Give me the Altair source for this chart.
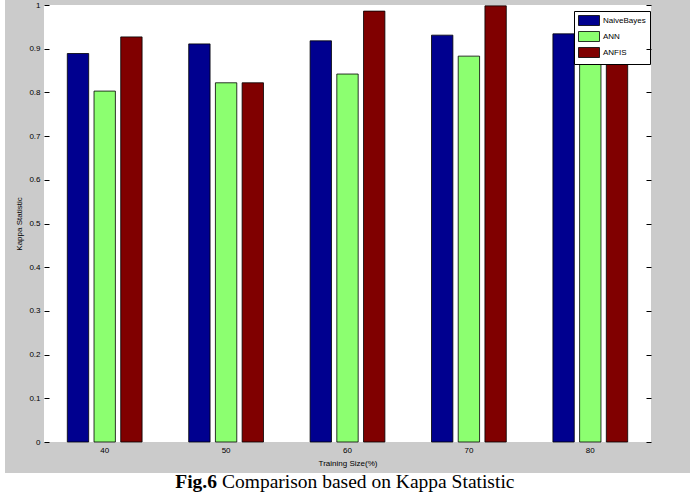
import altair as alt
import pandas as pd

groups = ["40", "50", "60", "70", "80"]
series = ["NaiveBayes", "ANN", "ANFIS"]
naive_bayes = [0.889, 0.911, 0.918, 0.931, 0.934]
ann = [0.803, 0.822, 0.842, 0.883, 0.930]
anfis = [0.927, 0.822, 0.986, 0.998, 0.872]
colors = ["#00008F", "#8CFF70", "#800000"]
y_ticks = [round(i * 0.1, 1) for i in range(11)]

rows = []
for name, vals in zip(series, [naive_bayes, ann, anfis]):
    for g, v in zip(groups, vals):
        rows.append({"size": g, "model": name, "kappa": v})
df = pd.DataFrame(rows)

W, H = 607, 437
FONT = "Liberation Sans"

bg = alt.Chart(df).mark_rect(color="#cbcbcb").encode(
    x=alt.value(-39), x2=alt.value(646), y=alt.value(-5), y2=alt.value(468)
)
plot_bg = alt.Chart(df).mark_rect(color="white").encode(
    x=alt.value(0), x2=alt.value(W), y=alt.value(0), y2=alt.value(H)
)

bars = alt.Chart(df).mark_bar(stroke="black", strokeWidth=0.8).encode(
    x=alt.X("size:N", sort=groups,
            scale=alt.Scale(paddingInner=0.34, paddingOuter=0.17),
            axis=alt.Axis(title="Training Size(%)", labelAngle=0, ticks=False,
                          domain=False, labelPadding=4, titlePadding=5,
                          labelFont=FONT, titleFont=FONT, labelFontSize=8,
                          titleFontSize=8, titleFontWeight="normal",
                          labelColor="black", titleColor="black", zindex=1)),
    xOffset=alt.XOffset("model:N", sort=series,
                        scale=alt.Scale(paddingInner=0.2, paddingOuter=0.1)),
    y=alt.Y("kappa:Q", scale=alt.Scale(domain=[0, 1], nice=False),
            axis=alt.Axis(title="Kappa Statistic", values=y_ticks, format=".1~f",
                          offset=-5, tickSize=5, domain=False, grid=False,
                          labelPadding=4, titlePadding=5, tickColor="black",
                          labelFont=FONT, titleFont=FONT, labelFontSize=8,
                          titleFontSize=8, titleFontWeight="normal",
                          labelColor="black", titleColor="black", zindex=1)),
    color=alt.Color("model:N", sort=series,
                    scale=alt.Scale(domain=series, range=colors),
                    legend=alt.Legend(title=None, orient="none", legendX=530,
                                      legendY=6, fillColor="white",
                                      strokeColor="black", padding=4,
                                      symbolType="M-1,-1H3.2V1H-1Z",
                                      symbolSize=100, symbolStrokeColor="black",
                                      symbolStrokeWidth=0.8, symbolOpacity=1,
                                      labelFont=FONT, labelFontSize=8,
                                      labelColor="black", labelOffset=14,
                                      rowPadding=1)),
)

right_ticks = alt.Chart(df).mark_point(opacity=0).encode(
    y=alt.Y("kappa:Q", scale=alt.Scale(domain=[0, 1], nice=False),
            axis=alt.Axis(orient="right", title=None, values=y_ticks,
                          labels=False, offset=-5, tickSize=5, domain=False,
                          grid=False, tickColor="black", zindex=1)),
)

cap_df = pd.DataFrame({"a": [0]})
cap1 = alt.Chart(cap_df).mark_text(text="Fig.6", font="Liberation Serif",
                                   fontSize=19.5, fontWeight="bold", align="right",
                                   baseline="alphabetic", color="black").encode(
    x=alt.value(173), y=alt.value(483))
cap2 = alt.Chart(cap_df).mark_text(text="Comparison based on Kappa Statistic",
                                   font="Liberation Serif", fontSize=19.5,
                                   align="left", baseline="alphabetic",
                                   color="black").encode(
    x=alt.value(178), y=alt.value(483))

chart = alt.layer(bg, plot_bg, bars, right_ticks, cap1, cap2).resolve_axis(
    y="independent"
).properties(
    width=W, height=H,
    padding={"left": 44, "top": 5, "right": 46, "bottom": 50},
    autosize=alt.AutoSizeParams(type="none"),
    background="white",
).configure_view(stroke="black", strokeWidth=1, fill=None)

chart.save("out.html", embed_options={"renderer": "svg", "actions": False})
